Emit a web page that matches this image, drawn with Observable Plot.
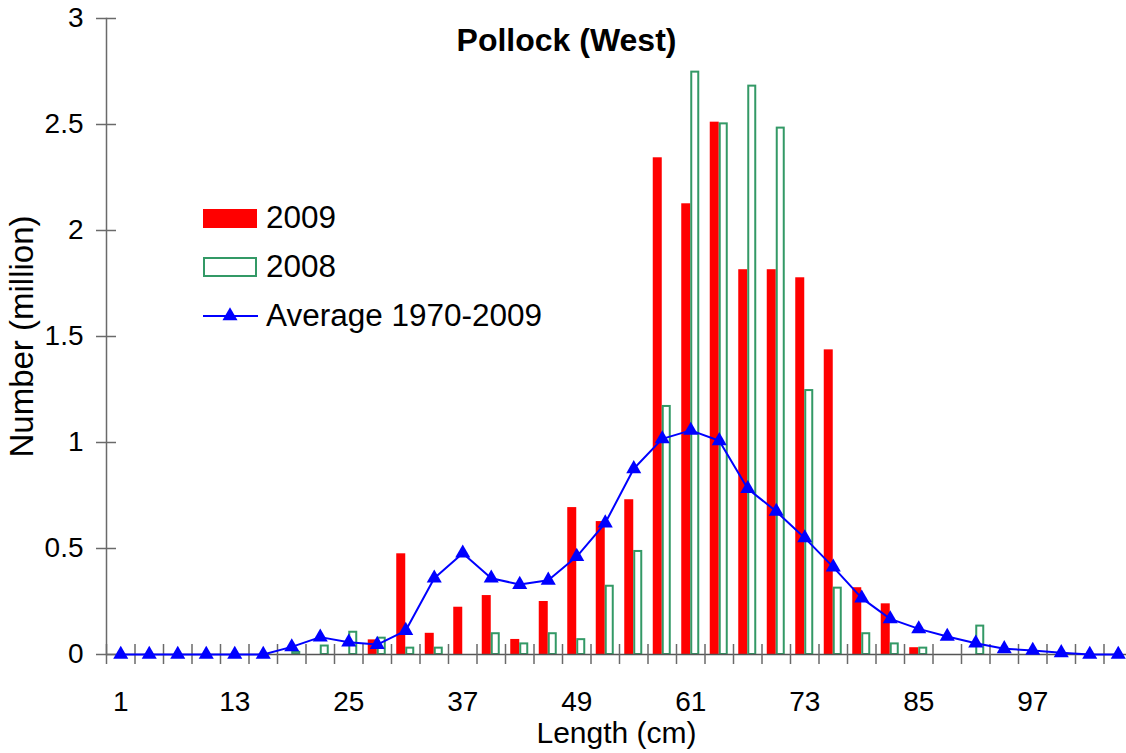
<!DOCTYPE html>
<html><head><meta charset="utf-8">
<script src="https://cdn.jsdelivr.net/npm/d3@7"></script>
<script src="https://cdn.jsdelivr.net/npm/@observablehq/plot@0.6"></script>
<style>
body{margin:0;background:#fff;}
#wrap{position:relative;width:1126px;height:753px;overflow:hidden;font-family:"Liberation Sans",Arial,sans-serif;}
#legend{position:absolute;left:0;top:0;}
</style></head><body><div id="wrap"></div>
<script>
const lengths = [1,4,7,10,13,16,19,22,25,28,31,34,37,40,43,46,49,52,55,58,61,64,67,70,73,76,79,82,85,88,91,94,97,100,103,106];
const y2009 = [0,0,0,0,0,0,0,0,0,0.069,0.475,0.10,0.223,0.278,0.071,0.25,0.693,0.627,0.73,2.343,2.126,2.511,1.815,1.815,1.777,1.437,0.315,0.239,0.032,0,0,0,0,0,0,0];
const y2008 = [0,0,0,0,0,0,0.01,0.04,0.105,0.077,0.03,0.03,0,0.098,0.05,0.098,0.07,0.322,0.486,1.17,2.747,2.503,2.681,2.483,1.245,0.313,0.098,0.05,0.03,0,0.134,0,0,0,0,0];
const avg = [0,0,0,0,0,0,0.036,0.082,0.058,0.047,0.113,0.36,0.478,0.36,0.33,0.35,0.462,0.62,0.876,1.017,1.057,1.008,0.782,0.675,0.55,0.412,0.266,0.168,0.121,0.085,0.053,0.027,0.019,0.008,0,0];
const xTickLabels = [1,13,25,37,49,61,73,85,97];
const yTicks = [0,0.5,1,1.5,2,2.5,3];
const seriesNames = ["2009","2008","Average 1970-2009"];
const title = "Pollock (West)";
const xLabel = "Length (cm)";
const yLabel = "Number (million)";
const colors = {red:"#FF0000", green:"#339966", blue:"#0000FF"};

const rows = lengths.map((l,i)=>({len:l, v2009:y2009[i], v2008:y2008[i], avg:avg[i]}));
const band = 1026/lengths.length;

const chart = Plot.plot({
  width:1126, height:753,
  marginLeft:106, marginRight:0, marginTop:18, marginBottom:99,
  style:{fontFamily:"'Liberation Sans', Arial, sans-serif", background:"white", color:"black"},
  x:{type:"band", domain:lengths, range:[106,1132], padding:0, round:false, axis:null},
  y:{domain:[0,3], range:[654,18], axis:null},
  marks:[
    Plot.barY(rows.filter(d=>d.v2009>0), {x:"len", y:"v2009", fill:colors.red, insetLeft:band/2-9, insetRight:band/2}),
    Plot.barY(rows.filter(d=>d.v2008>0), {x:"len", y:"v2008", fill:"white", stroke:colors.green, strokeWidth:2, insetLeft:band/2+1, insetRight:band/2-8}),
    Plot.ruleY([0], {stroke:"#555", strokeWidth:1.5}),
    Plot.frame({anchor:"left", stroke:"#6a6a6a", strokeWidth:1.5}),
    Plot.axisY({ticks:yTicks, tickFormat:d=>String(d), tickSize:20, dx:10, tickPadding:13, fontSize:28, stroke:"#6a6a6a", strokeWidth:1.5, color:"black", label:null}),
    Plot.axisX({ticks:lengths, tickSize:20, dy:-10, dx:-band/2, tickFormat:()=>"", stroke:"#6a6a6a", strokeWidth:1.5, label:null}),
    Plot.text(xTickLabels, {x:d=>d, frameAnchor:"bottom", lineAnchor:"bottom", dy:56, fontSize:28, fill:"black"}),
    Plot.line(rows, {x:"len", y:"avg", stroke:colors.blue, strokeWidth:2}),
    Plot.dot(rows, {x:"len", y:"avg", symbol:"triangle", r:5.6, fill:colors.blue, stroke:"none"}),
    Plot.text([xLabel], {frameAnchor:"bottom", dy:88, lineAnchor:"bottom", fontSize:30, fill:"black"}),
    Plot.text([yLabel], {frameAnchor:"left", rotate:-90, dx:-84, textAnchor:"middle", lineAnchor:"middle", fontSize:33, fill:"black"}),
    Plot.text([title], {frameAnchor:"top", dx:-50, dy:32, lineAnchor:"bottom", fontSize:32, fontWeight:"bold", fill:"black"})
  ]
});
const wrap = document.getElementById("wrap");
wrap.appendChild(chart);

// legend overlay
const lg = d3.select(wrap).append("svg").attr("id","legend").attr("width",600).attr("height",360)
  .style("font-family","'Liberation Sans', Arial, sans-serif");
const rowsY = [218, 267, 316];
const textLens = [70, 70, 276];
lg.append("rect").attr("x",203).attr("y",209).attr("width",54).attr("height",19).attr("fill",colors.red);
lg.append("rect").attr("x",204).attr("y",258).attr("width",52).attr("height",18).attr("fill","white").attr("stroke",colors.green).attr("stroke-width",2);
lg.append("line").attr("x1",203).attr("x2",258).attr("y1",316).attr("y2",316).attr("stroke",colors.blue).attr("stroke-width",2);
lg.append("path").attr("d", d3.symbol(d3.symbolTriangle, 98)()).attr("transform","translate(230,316)").attr("fill",colors.blue);
seriesNames.forEach((s,i)=>{
  lg.append("text").attr("x",266).attr("y",rowsY[i]+9.5).attr("font-size",31).attr("fill","black")
    .attr("textLength",textLens[i]).attr("lengthAdjust","spacingAndGlyphs").text(s);
});
</script></body></html>
